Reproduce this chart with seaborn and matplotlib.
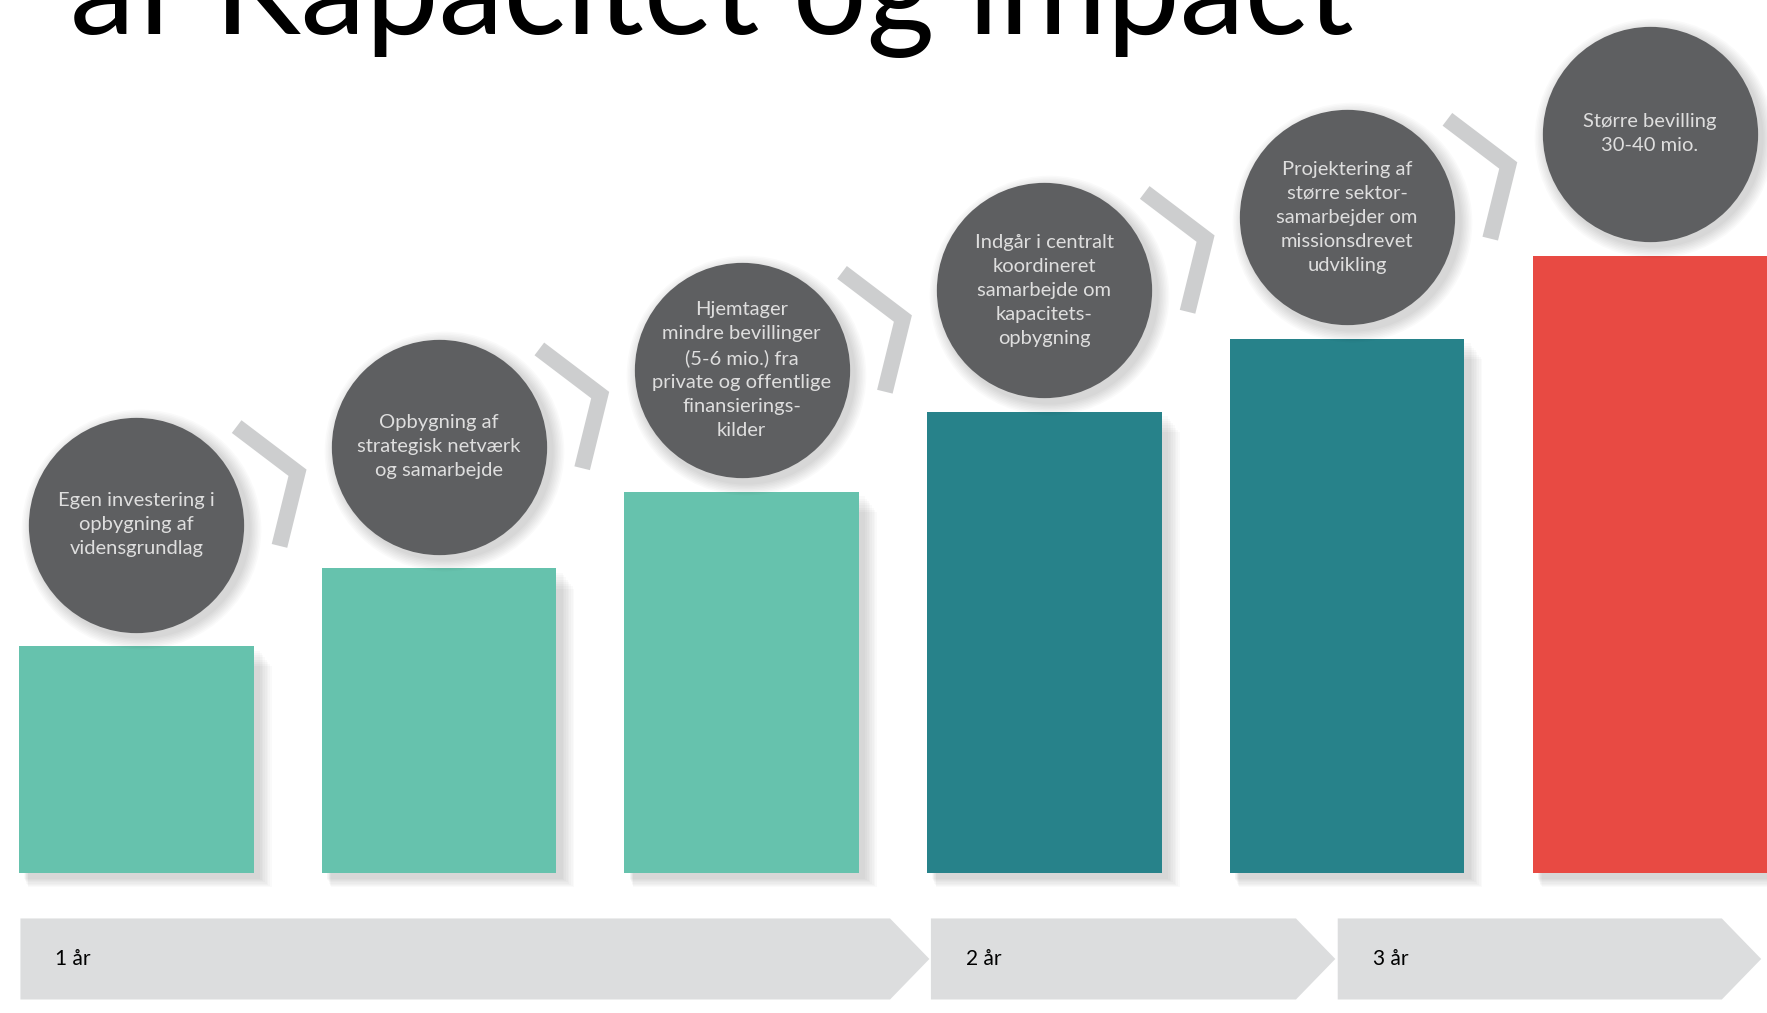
import numpy as np
import matplotlib.pyplot as plt
import seaborn as sns

# stage texts (shown in the circles), bar levels and phase of each stage
stages = [
    "Egen investering i\nopbygning af\nvidensgrundlag",
    "Opbygning af\nstrategisk netværk\nog samarbejde",
    "Hjemtager\nmindre bevillinger\n(5-6 mio.) fra\nprivate og offentlige\nfinansierings-\nkilder",
    "Indgår i centralt\nkoordineret\nsamarbejde om\nkapacitets-\nopbygning",
    "Projektering af\nstørre sektor-\nsamarbejder om\nmissionsdrevet\nudvikling",
    "Større bevilling\n30-40 mio.",
]
levels = [202, 271, 339, 410, 475, 549]
phases = ["start", "start", "start", "mid", "mid", "end"]

years = ["1 år", "2 år", "3 år"]
year_spans = [(-0.383, 2.49), (2.625, 3.831), (3.969, 5.238)]

palette = {"start": "#66C2AD", "mid": "#27828A", "end": "#E84A43"}
CIRCLE = "#5E5F61"
CHEVRON = "#CDCECF"
ARROW = "#DCDDDE"

PX = 1 / 268.6  # category units per pixel (x)

sns.set_theme(style="white")
plt.rcParams["font.family"] = ["Lato", "DejaVu Sans"]

fig = plt.figure(figsize=(17.67, 10.13), dpi=100)
ax = fig.add_axes([0, 0, 1, 1])

xs = np.arange(len(stages))

# soft shadows behind bars
for g in range(1, 9):
    ax.bar(xs + (4 + g) * PX, [h + 2 - g for h in levels], width=0.775 + g * PX,
           bottom=-4 - g, color="black", alpha=0.018, linewidth=0, zorder=1)

sns.barplot(x=stages, y=levels, hue=phases, palette=palette, dodge=False,
            width=0.775, saturation=1, legend=False, ax=ax, zorder=2)
for p in ax.patches:
    p.set_zorder(2)
    p.set_linewidth(0)

# circles sitting on top of each bar
cy = [h + 108 for h in levels]
for g in range(1, 9):
    ax.scatter(xs + 4 * PX, [c - 4 for c in cy], s=(155 + g * 2.2) ** 2,
               color="black", alpha=0.018, linewidths=0, zorder=3)
ax.scatter(xs, cy, s=155 ** 2, color=CIRCLE, linewidths=0, zorder=4)
for x, c, txt in zip(xs, cy, stages):
    ax.text(x, c, txt, ha="center", va="center", fontsize=14.5,
            fontweight="normal", color="#DEDEDE", linespacing=1.5, zorder=5)

# chevrons between the circles
for x, c in zip(xs[:-1], cy[:-1]):
    ax.plot([x + 89 * PX, x + 143 * PX, x + 127 * PX], [c + 87, c + 46, c - 19],
            color=CHEVRON, lw=11.5, solid_joinstyle="miter",
            solid_capstyle="butt", zorder=3)

# timeline arrows
y0, y1 = -40, -112
for label, (a, b) in zip(years, year_spans):
    ax.fill([a, b, b + 0.13, b, a], [y0, y0, (y0 + y1) / 2, y1, y1],
            color=ARROW, linewidth=0, zorder=1)
    ax.text(a + 0.115, (y0 + y1) / 2, label, ha="left", va="center",
            fontsize=15, color="black", zorder=2)

ax.set_xlim(-121 * PX, (1568 - 121) * PX)
ax.set_ylim(-124, 776)
ax.axis("off")

fig.text(70 / 1767, 1 - 34 / 1013, "af Kapacitet og impact", fontsize=94,
         va="baseline", ha="left", color="black")

fig.savefig("out.png", dpi=100)
